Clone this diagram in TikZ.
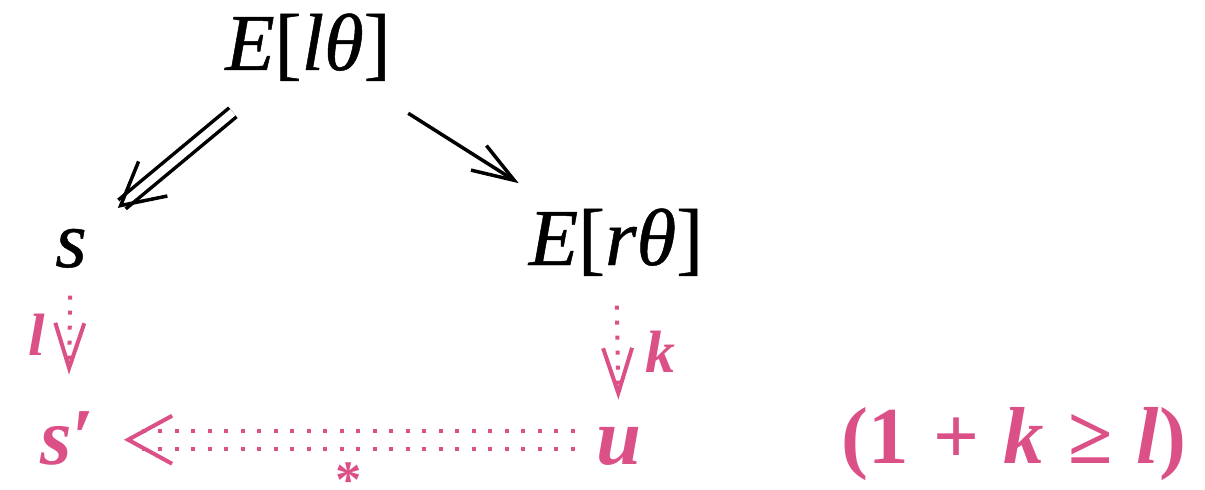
\documentclass[tikz,border=0pt]{standalone}
\usepackage{fontspec}
\setmainfont{Liberation Serif}
\newfontfamily\negra{Liberation Serif}[FakeBold=0.6, ItalicFeatures={FakeBold=0.6}]
\usetikzlibrary{arrows.meta}
\definecolor{trazo}{gray}{0}
\definecolor{rosa}{RGB}{219,80,135}

\begin{document}
\begin{tikzpicture}[
  x=0.02cm, y=-0.02cm,
  termino/.style={inner sep=0pt, text height=34.5pt, text depth=11.5pt,
                  text=trazo, font=\fontsize{46}{55}\selectfont\negra},
  resto/.style={inner sep=0pt, text height=34.5pt, text depth=6.9pt,
                text=rosa, font=\fontsize{46}{55}\selectfont\bfseries},
  etiqueta/.style={inner sep=0pt, text=rosa,
                   font=\fontsize{34}{40}\selectfont\bfseries\itshape},
  reescribe/.style={draw=trazo, double, double distance=0.16cm, line width=0.07cm,
                    -{Straight Barb[length=0.84cm, width=0.9cm, line width=0.07cm]}},
  paso/.style={draw=trazo, line width=0.07cm,
               -{Straight Barb[length=0.84cm, width=0.58cm]}},
  punteada/.style={draw=rosa, line width=0.08cm, dash pattern=on 0.08cm off 0.22cm,
                   -{Straight Barb[length=0.9cm, width=0.58cm]}},
  cierre/.style={draw=rosa, line width=0.08cm, dash pattern=on 0.08cm off 0.25cm,
                 double, double distance=0.28cm,
                 -{Straight Barb[length=0.88cm, width=0.96cm, line width=0.08cm]}}
]
\useasboundingbox (0,0) rectangle (1205,490);

\node[termino, anchor=base] (lt) at (308,70) {\textit{E}[\textit{lθ}]};
\node[termino, anchor=base] (s) at (71,267) {\textit{s}};
\node[termino, anchor=base] (rt) at (616,265) {\textit{E}[\textit{rθ}]};
\node[resto, anchor=base] (sp) at (68,464) {\textit{s}′};
\node[resto, anchor=base] (u) at (619,464) {\textit{u}};
\node[resto, anchor=base] (cond) at (1014,463) {(1\hspace{0.3em}+\hspace{0.3em}\textit{k}\hspace{0.3em}≥\hspace{0.3em}\textit{l})};

\draw[reescribe, shorten <=0.68cm, shorten >=0.8cm] (lt) -- (s);
\draw[paso, shorten <=0.85cm, shorten >=0.78cm] (lt) -- (rt);

\draw[punteada, shorten <=0.16cm, shorten >=0.57cm] (s) -- (sp);
\draw[punteada, shorten <=0.4cm, shorten >=0.07cm] (rt) -- (u);
\draw[cierre, shorten <=0.43cm, shorten >=0.57cm] (u) -- (sp);

\node[etiqueta, anchor=base] (ll) at (37,355) {l};
\node[etiqueta, anchor=base] (lk) at (660,372) {k};
\node[etiqueta, anchor=north, font=\fontsize{30}{36}\selectfont\bfseries] (la) at (349,461) {\raisebox{-0.25em}[0.43em][0pt]{*}};

\end{tikzpicture}
\end{document}
